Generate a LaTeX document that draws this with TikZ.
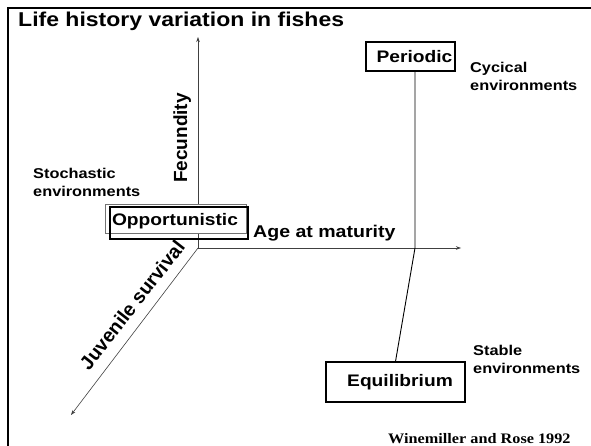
\documentclass[tikz,border=0pt]{standalone}
\usepackage{fontspec}
\setmainfont{Liberation Sans}
\newfontfamily\wsans[FakeStretch=1.15]{Liberation Sans}
\newfontfamily\wserif[FakeStretch=1.12]{Liberation Serif}
\usetikzlibrary{arrows.meta}
\begin{document}
\begin{tikzpicture}[x=1pt,y=-1pt,
  frameline/.style={line width=2pt, black},
  axis/.style={draw=black!75, line width=0.6pt, -{Stealth[length=5pt,width=3.5pt]}},
  stratbox/.style={draw, line width=1.1pt, inner sep=0pt, font=\wsans\bfseries\fontsize{16.7}{20}\selectfont},
  envlabel/.style={align=left, inner sep=0pt, anchor=north west, font=\wsans\bfseries\fontsize{14.2}{18.5}\selectfont},
  axlabel/.style={inner sep=0pt, font=\bfseries\fontsize{19}{22}\selectfont}]
\useasboundingbox (0,0) rectangle (591,446);
% frame
\draw[frameline] (8,446) -- (8,8) -- (591,8);
\node[anchor=base west, inner sep=0pt, font=\wsans\bfseries\fontsize{20}{24}\selectfont] (title) at (18,27) {Life history variation in fishes};
% axes
\coordinate (O) at (198,248);
\coordinate (ytip) at (198,37);
\coordinate (xtip) at (461,248);
\coordinate (ztip) at (71,415);
\draw[axis] (O) -- (ytip);
\draw[axis] (O) -- (xtip);
\draw[axis] (O) -- (ztip);
% axis labels
\node[axlabel, rotate=90, anchor=base] (fec) at (187,138) {Fecundity};
\node[axlabel, rotate=52, anchor=center, font=\bfseries\fontsize{19.5}{22}\selectfont] (juv) at (132,305) {Juvenile survival};
\node[anchor=base west, inner sep=0pt, font=\wsans\bfseries\fontsize{17}{20}\selectfont] (age) at (253,237) {Age at maturity};
% opportunistic
\node[draw=black!55, line width=0.8pt, fill=white, minimum width=141pt, minimum height=29pt, inner sep=0pt] (oppshadow) at (175.5,218.5) {};
\node[stratbox, minimum width=138pt, minimum height=32pt] (opp) at (179,223) {};
\node[inner sep=0pt, font=\wsans\bfseries\fontsize{16.7}{20}\selectfont] (opptext) at (175,221) {Opportunistic};
% periodic and equilibrium
\node[stratbox, fill=white, minimum width=89pt, minimum height=29pt] (per) at (410.5,56.5) {\hspace*{8pt}Periodic};
\node[stratbox, fill=white, minimum width=139pt, minimum height=40pt] (equ) at (395.5,382) {\hspace*{9pt}Equilibrium};
\coordinate (cross) at (415,248);
\draw[line width=0.9pt] (cross |- per.south) -- (cross) -- (equ.north);
% environment labels
\node[envlabel] (cyc) at (470,62) {Cycical\\environments};
\node[envlabel] (stab) at (473,345) {Stable\\environments};
\node[envlabel] (stoch) at (33,168) {Stochastic\\environments};
% source
\node[anchor=base west, inner sep=0pt, font=\wserif\bfseries\fontsize{14.5}{17}\selectfont] (src) at (388,443) {Winemiller and Rose 1992};
\end{tikzpicture}
\end{document}
